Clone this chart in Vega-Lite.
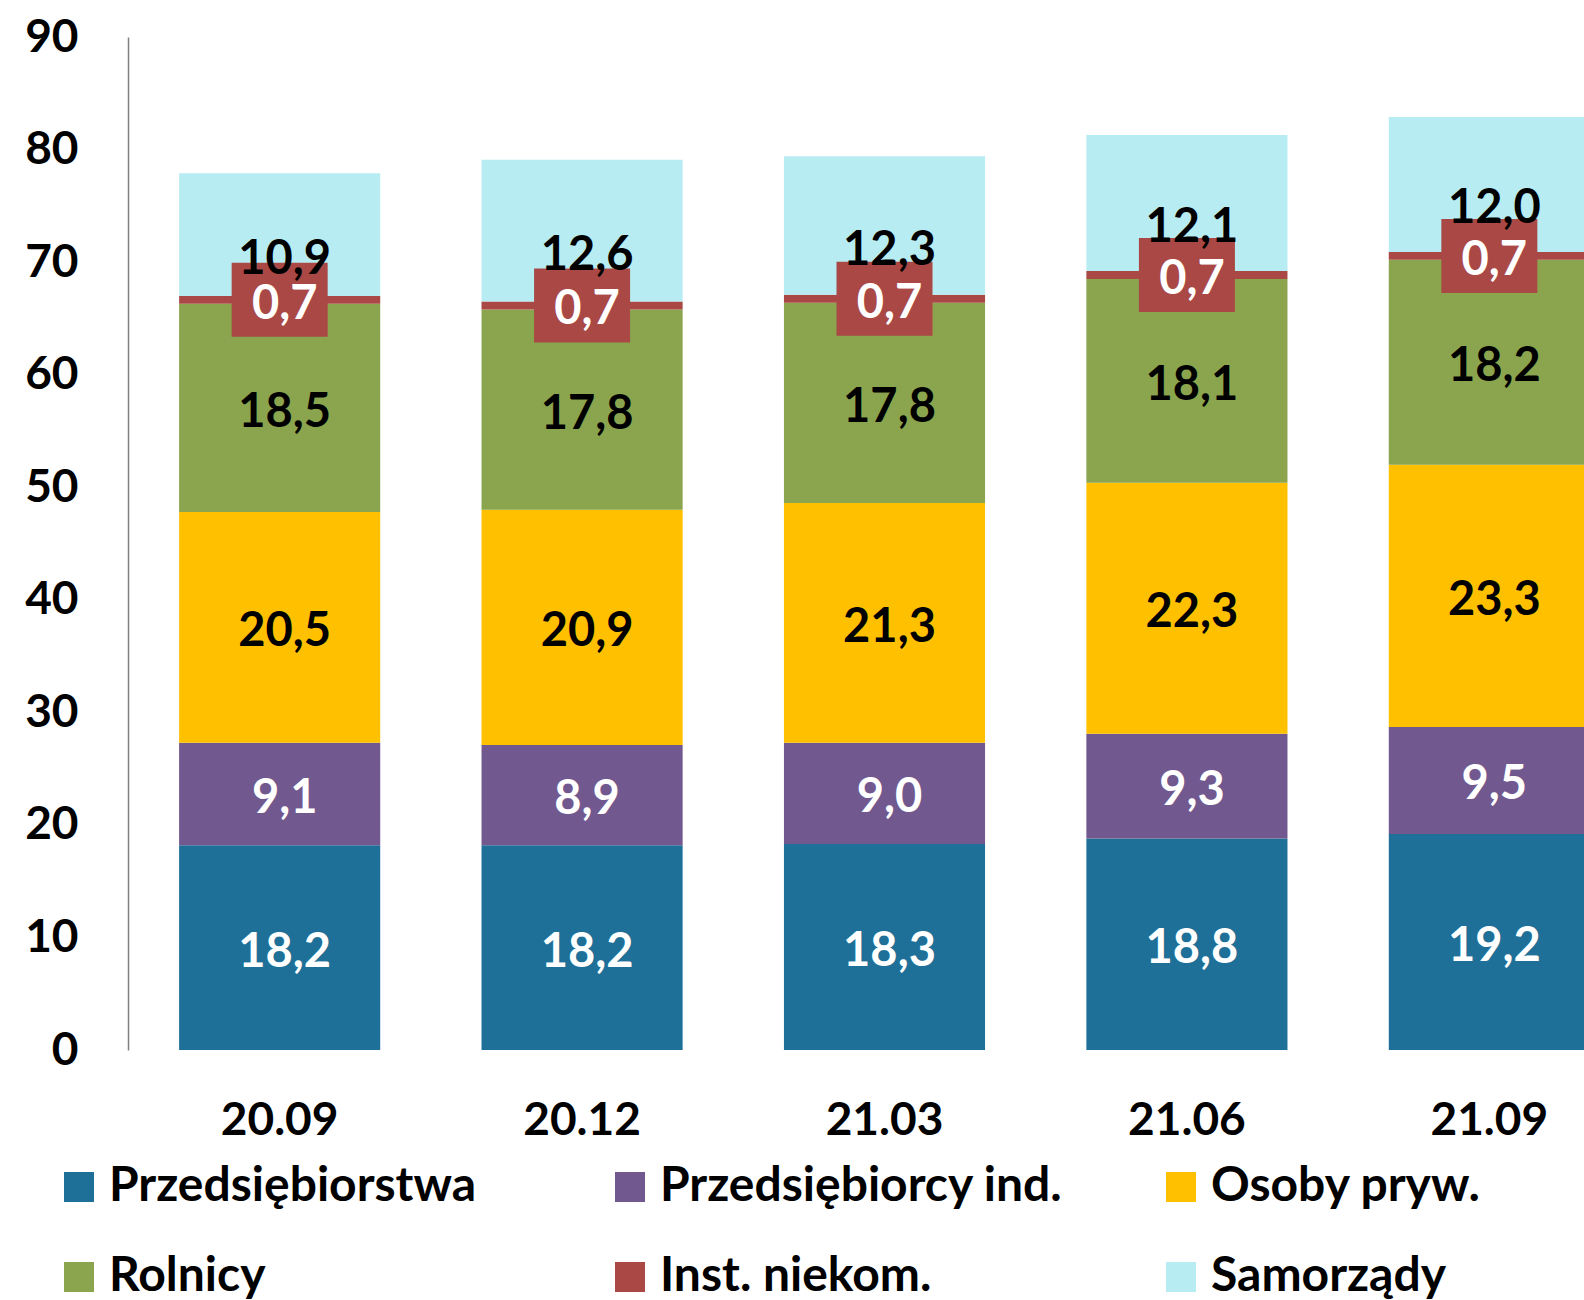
{
  "$schema": "https://vega.github.io/schema/vega-lite/v6.json",
  "autosize": {"type": "none"},
  "padding": {"left": 128, "top": 37, "right": 0, "bottom": 250},
  "width": 1456,
  "height": 1013,
  "config": {
    "font": "Lato",
    "view": {"stroke": null},
    "axis": {"labelFont": "Lato", "labelFontWeight": "bold", "labelColor": "#000000", "labelFontSize": 46, "grid": false, "ticks": false, "title": null}
  },
  "data": {
    "values": [
      {"c": "20.09", "s": "Przedsiębiorstwa", "v": 18.2},
      {"c": "20.09", "s": "Przedsiębiorcy ind.", "v": 9.1},
      {"c": "20.09", "s": "Osoby pryw.", "v": 20.5},
      {"c": "20.09", "s": "Rolnicy", "v": 18.5},
      {"c": "20.09", "s": "Inst. niekom.", "v": 0.7},
      {"c": "20.09", "s": "Samorządy", "v": 10.9},
      {"c": "20.12", "s": "Przedsiębiorstwa", "v": 18.2},
      {"c": "20.12", "s": "Przedsiębiorcy ind.", "v": 8.9},
      {"c": "20.12", "s": "Osoby pryw.", "v": 20.9},
      {"c": "20.12", "s": "Rolnicy", "v": 17.8},
      {"c": "20.12", "s": "Inst. niekom.", "v": 0.7},
      {"c": "20.12", "s": "Samorządy", "v": 12.6},
      {"c": "21.03", "s": "Przedsiębiorstwa", "v": 18.3},
      {"c": "21.03", "s": "Przedsiębiorcy ind.", "v": 9.0},
      {"c": "21.03", "s": "Osoby pryw.", "v": 21.3},
      {"c": "21.03", "s": "Rolnicy", "v": 17.8},
      {"c": "21.03", "s": "Inst. niekom.", "v": 0.7},
      {"c": "21.03", "s": "Samorządy", "v": 12.3},
      {"c": "21.06", "s": "Przedsiębiorstwa", "v": 18.8},
      {"c": "21.06", "s": "Przedsiębiorcy ind.", "v": 9.3},
      {"c": "21.06", "s": "Osoby pryw.", "v": 22.3},
      {"c": "21.06", "s": "Rolnicy", "v": 18.1},
      {"c": "21.06", "s": "Inst. niekom.", "v": 0.7},
      {"c": "21.06", "s": "Samorządy", "v": 12.1},
      {"c": "21.09", "s": "Przedsiębiorstwa", "v": 19.2},
      {"c": "21.09", "s": "Przedsiębiorcy ind.", "v": 9.5},
      {"c": "21.09", "s": "Osoby pryw.", "v": 23.3},
      {"c": "21.09", "s": "Rolnicy", "v": 18.2},
      {"c": "21.09", "s": "Inst. niekom.", "v": 0.7},
      {"c": "21.09", "s": "Samorządy", "v": 12.0}
    ]
  },
  "transform": [
    {"calculate": "indexof(['Przedsiębiorstwa','Przedsiębiorcy ind.','Osoby pryw.','Rolnicy','Inst. niekom.','Samorządy'], datum.s)", "as": "o"},
    {"stack": "v", "groupby": ["c"], "sort": [{"field": "o", "order": "ascending"}], "as": ["v0", "v1"]},
    {"calculate": "(datum.v0 + datum.v1) / 2", "as": "mid"},
    {"calculate": "replace(format(datum.v, '.1f'), '.', ',')", "as": "lab"}
  ],
  "encoding": {
    "x": {
      "field": "c", "type": "nominal", "sort": null,
      "scale": {"range": [0, 1513], "paddingInner": 0.335, "paddingOuter": 0.169},
      "axis": {"domain": false, "labelAngle": 0, "labelPadding": 48}
    }
  },
  "layer": [
    {
      "mark": {"type": "bar", "clip": true},
      "encoding": {
        "y": {"field": "v0", "type": "quantitative", "scale": {"domain": [0, 90], "nice": false},
              "axis": {"values": [0,10,20,30,40,50,60,70,80,90], "domain": true, "domainColor": "#7f7f7f", "domainWidth": 1.5, "labelPadding": 50}},
        "y2": {"field": "v1"},
        "color": {
          "field": "s", "type": "nominal",
          "scale": {
            "domain": ["Przedsiębiorstwa", "Przedsiębiorcy ind.", "Osoby pryw.", "Rolnicy", "Inst. niekom.", "Samorządy"],
            "range": ["#1F7098", "#71598F", "#FFC000", "#8AA54E", "#AA4845", "#B7ECF2"]
          },
          "legend": {
            "title": null, "orient": "none", "legendX": -73, "legendY": 1126,
            "direction": "horizontal", "columns": 3, "gridAlign": "all",
            "columnPadding": 94, "rowPadding": 42,
            "symbolType": "square", "symbolSize": 900, "symbolStrokeWidth": 0,
            "labelFont": "Lato", "labelFontSize": 48, "labelFontWeight": "bold", "labelColor": "#000000",
            "labelOffset": 6, "labelLimit": 0
          }
        }
      }
    },
    {
      "transform": [{"filter": "datum.s == 'Inst. niekom.'"}],
      "mark": {"type": "point", "shape": "M-1,-0.77H1V0.77H-1Z", "filled": true, "opacity": 1, "color": "#AA4845", "size": 9216, "strokeWidth": 0},
      "encoding": {"y": {"field": "mid", "type": "quantitative"}}
    },
    {
      "transform": [{"filter": "datum.s != 'Samorządy'"}],
      "mark": {"type": "text", "font": "Lato", "fontWeight": "bold", "fontSize": 47, "baseline": "middle", "align": "center", "dx": 5, "dy": 5},
      "encoding": {
        "y": {"field": "mid", "type": "quantitative"},
        "text": {"field": "lab"},
        "color": {"condition": {"test": "datum.s == 'Osoby pryw.' || datum.s == 'Rolnicy'", "value": "#000000"}, "value": "#FFFFFF"}
      }
    },
    {
      "transform": [{"filter": "datum.s == 'Samorządy'"}],
      "mark": {"type": "text", "font": "Lato", "fontWeight": "bold", "fontSize": 47, "baseline": "middle", "align": "center", "dx": 5, "dy": 25, "color": "#000000"},
      "encoding": {
        "y": {"field": "mid", "type": "quantitative"},
        "text": {"field": "lab"}
      }
    }
  ]
}
